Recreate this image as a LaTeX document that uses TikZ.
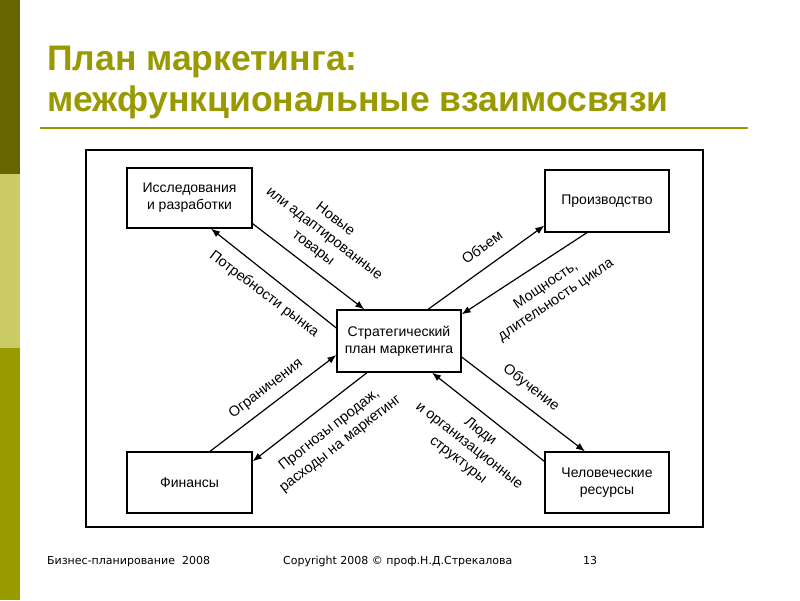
\documentclass[tikz,border=0pt]{standalone}
\usepackage{fontspec}
\setmainfont{Liberation Sans}
\newfontfamily\footfont{DejaVu Sans}
\usetikzlibrary{arrows.meta}
\definecolor{olivedark}{HTML}{666600}
\definecolor{olivelight}{HTML}{CCCC66}
\definecolor{olivemid}{HTML}{999900}
\begin{document}
\begin{tikzpicture}[x=1pt,y=-1pt,
  box/.style={draw, line width=1.3pt, minimum width=125pt, minimum height=61pt, inner sep=0pt, align=center, font=\fontsize{14}{17}\selectfont},
  conn/.style={line width=1.2pt, -{Latex[length=9pt,width=7pt]}},
  lbl/.style={align=center, inner sep=0pt, font=\fontsize{14.5}{18}\selectfont},
  title/.style={anchor=base west, text=olivemid, inner sep=0pt, font=\bfseries\fontsize{35.5}{40}\selectfont},
  foot/.style={anchor=base west, inner sep=0pt, font=\footfont\fontsize{11}{13}\selectfont}
  ]
\useasboundingbox[fill=white] (0,0) rectangle (800,600);
% left bar
\fill[olivedark] (0,0) rectangle (20,174);
\fill[olivelight] (0,174) rectangle (20,348);
\fill[olivemid] (0,348) rectangle (20,600);
% title
\node[title] (t1) at (47,70) {План маркетинга:};
\node[title] (t2) at (47,111.5) {межфункциональные взаимосвязи};
\draw[olivemid, line width=2pt] (40,128) -- (748,128);
% frame
\draw[line width=1.3pt] (86,150) rectangle (703,527);
% boxes
\node[box, minimum height=60pt] (rd) at (189.5,198) {Исследования\\и разработки};
\node[box, minimum width=124pt, minimum height=62pt] (pr) at (607,201) {Производство};
\node[box] (fi) at (189.5,482.5) {Финансы};
\node[box, minimum width=124pt] (hr) at (607,482.5) {Человеческие\\ресурсы};
\node[box, minimum width=124pt, minimum height=62pt] (c) at (399,341) {Стратегический\\план маркетинга};
% connectors
\draw[conn] ([yshift=5pt]rd.south east) -- ([xshift=28pt]c.north west);
\draw[conn] ([yshift=13pt]c.west) -- ([xshift=21.5pt]rd.south);
\draw[conn] ([xshift=20.5pt]fi.north) -- ([yshift=-14pt]c.west);
\draw[conn] ([xshift=-32pt]c.south) -- ([yshift=-10pt]fi.north east);
\draw[conn] ([xshift=29pt]c.north) -- ([yshift=7pt]pr.south west);
\draw[conn] ([xshift=-20pt]pr.south) -- ([yshift=-5pt]c.north east);
\draw[conn] ([yshift=-16pt]c.east) -- ([xshift=-22pt]hr.north);
\draw[conn] ([yshift=-10pt]hr.north west) -- ([xshift=33pt]c.south);
% labels
\node[lbl, rotate=-37.5] (l1) at (324,234) {Новые\\или адаптированные\\товары};
\node[lbl, rotate=-37] (l2) at (264,294) {Потребности рынка};
\node[lbl, rotate=37.5] (l3) at (266,389) {Ограничения};
\node[lbl, rotate=38] (l4) at (335,437) {Прогнозы продаж,\\расходы на маркетинг};
\node[lbl, rotate=36] (l5) at (482,247) {Объем};
\node[lbl, rotate=34] (l6) at (551,293) {Мощность,\\длительность цикла};
\node[lbl, rotate=-37.5] (l7) at (531,388) {Обучение};
\node[lbl, rotate=-38] (l8) at (469,446) {Люди\\и организационные\\структуры};
% footer
\node[foot] (f1) at (47,564) {Бизнес-планирование\ \ 2008};
\node[foot] (f2) at (283,564) {Copyright 2008 © проф.Н.Д.Стрекалова};
\node[foot] (f3) at (583,564) {13};
\end{tikzpicture}
\end{document}
